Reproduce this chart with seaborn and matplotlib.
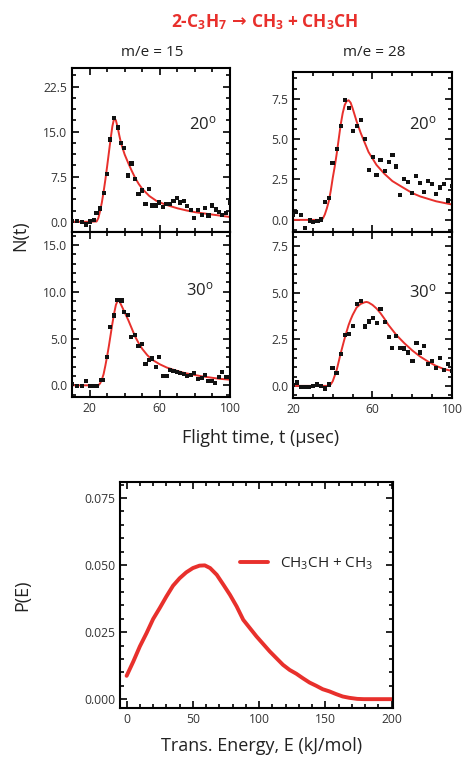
import numpy as np
import pandas as pd
import matplotlib
matplotlib.use("Agg")
import matplotlib.pyplot as plt
from matplotlib.ticker import MultipleLocator, FixedLocator, FormatStrFormatter
import seaborn as sns

# ---------- data ----------

# m/e = 15, 20 deg
tl_t = [9.8, 12.7, 15.5, 18.0, 20.2, 22.5, 24.0, 25.9, 28.0, 29.9, 31.8, 33.9, 36.0,
        37.8, 39.7, 41.8, 43.9, 45.8, 47.9, 49.8, 51.9, 53.8, 55.8, 57.7, 59.6, 61.7,
        63.8, 65.9, 67.8, 69.7, 71.7, 73.8, 75.7, 77.6, 79.7, 81.8, 83.9, 85.6, 87.8,
        89.9, 91.8, 93.5, 95.6, 97.5, 99.8]
tl_n = [0.2, 0.2, 0.0, -0.45, 0.05, 0.3, 1.4, 2.2, 4.8, 8.0, 13.7, 17.3, 15.7,
        13.1, 12.3, 7.7, 9.7, 7.1, 4.6, 5.2, 2.9, 5.4, 2.7, 2.7, 3.2, 2.4,
        3.0, 3.0, 3.4, 4.0, 3.2, 3.4, 2.6, 1.9, 0.6, 1.9, 1.1, 2.3, 1.05,
        2.7, 2.05, 1.6, 1.1, 1.5, 3.2]
tl_fit_t = [10, 20, 24, 25, 26, 27, 28, 29, 30, 31, 32, 33, 34, 35, 36, 37, 38, 40,
            42, 44, 46, 48, 50, 54, 58, 62, 66, 70, 75, 80, 85, 90, 95, 100]
tl_fit_n = [0, 0, 0.05, 0.6, 1.8, 3.2, 5.0, 7.0, 9.2, 11.5, 13.8, 15.9, 17.2, 16.9,
            15.7, 14.3, 13.0, 11.2, 9.8, 8.5, 7.3, 6.3, 5.5, 4.3, 3.5, 3.0, 2.6,
            2.25, 1.9, 1.6, 1.4, 1.2, 1.0, 0.8]

# m/e = 28, 20 deg
tr_t = [20.0, 21.7, 23.9, 26.1, 28.4, 30.1, 32.3, 34.0, 36.0, 38.0, 39.9, 42.1, 44.1,
        46.2, 48.0, 50.0, 52.1, 54.1, 56.1, 58.1, 60.2, 62.0, 64.0, 66.1, 68.1, 70.1,
        72.0, 74.0, 76.0, 78.0, 79.9, 81.9, 84.0, 86.0, 88.0, 90.0, 92.0, 94.1, 96.1,
        98.1, 99.8]
tr_n = [0.33, 0.5, 0.3, -0.5, -0.04, -0.12, -0.08, 0.02, 1.1, 1.35, 3.5, 4.4, 5.8,
        7.4, 6.9, 5.5, 5.8, 6.2, 5.0, 3.1, 3.9, 2.8, 3.7, 3.0, 3.6, 4.0,
        3.3, 1.56, 2.55, 2.34, 1.66, 2.7, 2.3, 1.7, 2.4, 2.2, 1.6, 2.0, 2.2,
        1.2, 2.1]
tr_fit_t = [20, 30, 34, 35, 36, 37, 38, 39, 40, 41, 42, 43, 44, 45, 46, 47, 48, 49,
            50, 52, 54, 56, 58, 62, 66, 70, 74, 80, 84, 88, 92, 96, 100]
tr_fit_n = [0, 0, 0, 0.08, 0.33, 0.7, 1.15, 1.8, 2.6, 3.3, 4.1, 5.0, 5.9, 6.6, 7.1,
            7.35, 7.4, 7.25, 6.9, 6.1, 5.4, 4.8, 4.2, 3.4, 2.85, 2.4, 2.1, 1.66,
            1.45, 1.3, 1.15, 1.05, 0.95]

# m/e = 15, 30 deg
bl_t = [9.8, 13.0, 15.5, 18.0, 20.2, 22.5, 24.0, 26.3, 27.8, 29.9, 31.8, 33.9, 35.8,
        38.2, 39.7, 41.8, 43.7, 45.8, 47.9, 49.8, 51.9, 54.0, 55.8, 57.7, 59.6, 61.7,
        63.8, 65.7, 67.8, 69.8, 71.7, 73.6, 75.5, 77.6, 79.7, 81.8, 83.9, 85.6, 87.5,
        89.5, 91.4, 93.5, 95.6, 97.5, 99.8]
bl_n = [0.18, -0.1, -0.04, 0.46, -0.04, -0.04, -0.04, 0.6, 0.6, 3.07, 6.2, 7.46, 9.1,
        9.07, 7.86, 7.5, 5.2, 5.4, 4.25, 4.46, 2.25, 2.75, 2.86, 1.96, 3.0, 0.96,
        0.96, 1.68, 1.54, 1.46, 1.32, 1.25, 0.96, 1.1, 1.32, 0.68, 0.82, 1.07, 0.46,
        0.46, 0.25, 0.9, 1.43, 0.9, 0.9]
bl_fit_t = [10, 20, 25, 26, 27, 28, 29, 30, 31, 32, 33, 34, 35, 36, 37, 38, 40, 42,
            44, 46, 48, 50, 53, 56, 60, 64, 68, 74, 80, 84, 90, 94, 100]
bl_fit_n = [0, 0, 0, 0.2, 0.6, 1.2, 2.1, 3.1, 4.2, 5.4, 6.6, 7.7, 8.6, 9.05, 9.0,
            8.6, 7.8, 7.0, 6.1, 5.2, 4.5, 3.9, 3.2, 2.7, 2.25, 1.9, 1.65, 1.32,
            1.1, 0.96, 0.8, 0.7, 0.6]

# m/e = 28, 30 deg
br_t = [20.0, 22.0, 24.0, 26.1, 28.1, 30.1, 32.2, 34.2, 36.2, 38.2, 39.9, 41.9, 44.1,
        46.0, 48.0, 50.0, 52.1, 54.1, 56.1, 58.1, 60.2, 62.2, 64.0, 66.1, 68.1, 70.0,
        72.0, 74.0, 76.0, 78.0, 80.1, 82.1, 84.1, 86.1, 88.0, 90.0, 92.0, 94.1, 96.1,
        98.1, 99.8]
br_n = [0.04, 0.18, -0.04, -0.04, -0.07, 0.0, 0.07, 0.0, -0.14, 0.07, 0.95, 0.71, 1.73,
        2.71, 2.8, 3.2, 4.4, 4.57, 3.18, 3.45, 3.66, 3.36, 4.1, 3.43, 2.64, 2.02,
        2.68, 2.05, 2.0, 1.79, 1.34, 2.29, 1.79, 2.14, 1.16, 1.34, 0.98, 1.48, 0.84,
        1.16, 0.8]
br_fit_t = [20, 30, 38, 39, 40, 41, 42, 43, 44, 45, 46, 47, 48, 49, 50, 52, 54, 56,
            57, 58, 60, 62, 64, 66, 68, 72, 76, 80, 84, 88, 92, 96, 100]
br_fit_n = [0, 0, 0, 0.08, 0.25, 0.55, 0.86, 1.3, 1.75, 2.15, 2.55, 2.92, 3.27, 3.55,
            3.8, 4.2, 4.39, 4.48, 4.5, 4.47, 4.34, 4.15, 3.9, 3.6, 3.27, 2.73,
            2.29, 1.9, 1.57, 1.3, 1.07, 0.9, 0.8]

# P(E)
pe_e = [0, 5, 10, 15, 20, 25, 30, 35, 40, 45, 50, 55, 59, 63, 68, 73, 78, 83, 88,
        93, 98, 103, 108, 113, 118, 123, 128, 133, 138, 143, 148, 153, 158, 163,
        168, 174, 179, 190, 200]
pe_p = [0.0087, 0.014, 0.0197, 0.0246, 0.0299, 0.034, 0.0383, 0.0423, 0.0451,
        0.0473, 0.0489, 0.0498, 0.0499, 0.0489, 0.0464, 0.0427, 0.0389, 0.0346,
        0.0296, 0.0265, 0.0234, 0.0206, 0.0178, 0.0153, 0.0128, 0.0109, 0.0095,
        0.0078, 0.0062, 0.005, 0.0037, 0.0029, 0.0019, 0.001, 0.0005, 0.0001,
        0.0, 0.0, 0.0]

tof_ticks = [20, 60, 100]

# ---------- style ----------

sns.set_style("ticks")
plt.rcParams['font.family'] = ['Open Sans', 'DejaVu Sans']
plt.rcParams['mathtext.fontset'] = 'custom'
plt.rcParams['mathtext.rm'] = 'Open Sans'
plt.rcParams['mathtext.it'] = 'Open Sans:italic'
plt.rcParams['mathtext.bf'] = 'Open Sans:bold'

RED = '#e8302c'
TICK_C = '#333333'
LAB_C = '#222222'

fig = plt.figure(figsize=(4.64, 7.59), dpi=100)
W, H = 464.0, 759.0


def px_axes(x0, y0, x1, y1):
    return fig.add_axes([x0 / W, 1 - y1 / H, (x1 - x0) / W, (y1 - y0) / H])


def style_axes(ax, xlim, ylim, xmin, ymaj, ymin, fmt, xlabels=True):
    ax.set_xlim(*xlim)
    ax.set_ylim(*ylim)
    ax.xaxis.set_minor_locator(MultipleLocator(xmin))
    ax.yaxis.set_major_locator(MultipleLocator(ymaj))
    ax.yaxis.set_minor_locator(MultipleLocator(ymin))
    ax.yaxis.set_major_formatter(FormatStrFormatter(fmt))
    ax.tick_params(which='both', direction='in', top=True, right=True,
                   width=1.2, color='black', labelsize=8.7, labelcolor=TICK_C)
    ax.tick_params(which='major', length=5, pad=3.5)
    ax.tick_params(which='minor', length=3)
    if not xlabels:
        ax.tick_params(axis='x', labelbottom=False)
    for s in ax.spines.values():
        s.set_linewidth(1.5)
        s.set_color('black')
    ax.set_xlabel("")
    ax.set_ylabel("")


def tof_panel(ax, t, n, ft, fn):
    pts = pd.DataFrame({"t": t, "n": n})
    fit = pd.DataFrame({"t": ft, "n": fn})
    sns.lineplot(data=fit, x="t", y="n", color=RED, linewidth=1.4,
                 sort=False, estimator=None, ax=ax, zorder=2)
    sns.scatterplot(data=pts, x="t", y="n", marker='s', s=9, color='#111111',
                    edgecolor='none', ax=ax, zorder=3)
    ax.xaxis.set_major_locator(FixedLocator(tof_ticks))


ax_tl = px_axes(72, 68, 230, 232)
ax_tr = px_axes(293, 72, 452, 232)
ax_bl = px_axes(72, 232, 230, 397)
ax_br = px_axes(293, 232, 452, 398)
ax_pe = px_axes(120, 482, 393, 708)

tof_panel(ax_tl, tl_t, tl_n, tl_fit_t, tl_fit_n)
tof_panel(ax_tr, tr_t, tr_n, tr_fit_t, tr_fit_n)
tof_panel(ax_bl, bl_t, bl_n, bl_fit_t, bl_fit_n)
tof_panel(ax_br, br_t, br_n, br_fit_t, br_fit_n)

style_axes(ax_tl, (10, 100), (-1.7, 25.6), 10, 7.5, 1.875, '%.1f', xlabels=False)
style_axes(ax_tr, (20, 100), (-0.75, 9.15), 10, 2.5, 0.625, '%.1f', xlabels=False)
style_axes(ax_bl, (10, 100), (-1.25, 16.4), 10, 5.0, 1.0, '%.1f')
style_axes(ax_br, (20, 100), (-0.65, 8.25), 10, 2.5, 0.5, '%.1f')

# P(E) panel
pe = pd.DataFrame({"E": pe_e, "P": pe_p})
sns.lineplot(data=pe, x="E", y="P", color=RED, linewidth=2.8, sort=False,
             estimator=None, ax=ax_pe, label=r"CH$_3$CH + CH$_3$")
style_axes(ax_pe, (-5, 201), (-0.0033, 0.081), 10, 0.025, 0.005, '%.3f')
ax_pe.xaxis.set_major_locator(MultipleLocator(50))
leg = ax_pe.legend(loc='center left', bbox_to_anchor=(0.44, 0.637), frameon=False,
                   fontsize=11, handlelength=1.8, handletextpad=0.8,
                   borderpad=0, borderaxespad=0)
for txt in leg.get_texts():
    txt.set_color(LAB_C)

# ---------- text ----------

title_kw = dict(color=RED, fontsize=12.5, fontweight='bold', va='center')
fig.text(227 / W, 1 - 22 / H, r"2-C$_\mathbf{3}$H$_\mathbf{7}$", ha='right', **title_kw)
fig.text(239 / W, 1 - 21 / H, "→", ha='center', family='DejaVu Sans', **title_kw)
fig.text(251 / W, 1 - 22 / H, r"CH$_\mathbf{3}$ + CH$_\mathbf{3}$CH", ha='left', **title_kw)

fig.text(152 / W, 1 - 52 / H, "m/e = 15", fontsize=11, color=LAB_C,
         ha='center', va='center')
fig.text(374 / W, 1 - 52 / H, "m/e = 28", fontsize=11, color=LAB_C,
         ha='center', va='center')

deg_kw = dict(fontsize=12, color=LAB_C, ha='right', va='center')
fig.text(217 / W, 1 - 124 / H, r"20$^{\rm o}$", **deg_kw)
fig.text(437 / W, 1 - 124 / H, r"20$^{\rm o}$", **deg_kw)
fig.text(214 / W, 1 - 290 / H, r"30$^{\rm o}$", **deg_kw)
fig.text(437 / W, 1 - 292 / H, r"30$^{\rm o}$", **deg_kw)

fig.text(20 / W, 1 - 236 / H, "N(t)", fontsize=13, color=LAB_C, rotation=90,
         ha='center', va='center')
fig.text(261 / W, 1 - 438 / H, "Flight time, t (μsec)", fontsize=13, color=LAB_C,
         ha='center', va='center')
fig.text(22 / W, 1 - 595 / H, "P(E)", fontsize=13, color=LAB_C, rotation=90,
         ha='center', va='center')
fig.text(262 / W, 1 - 746 / H, "Trans. Energy, E (kJ/mol)", fontsize=13,
         color=LAB_C, ha='center', va='center')

fig.savefig("out.png", dpi=100)
